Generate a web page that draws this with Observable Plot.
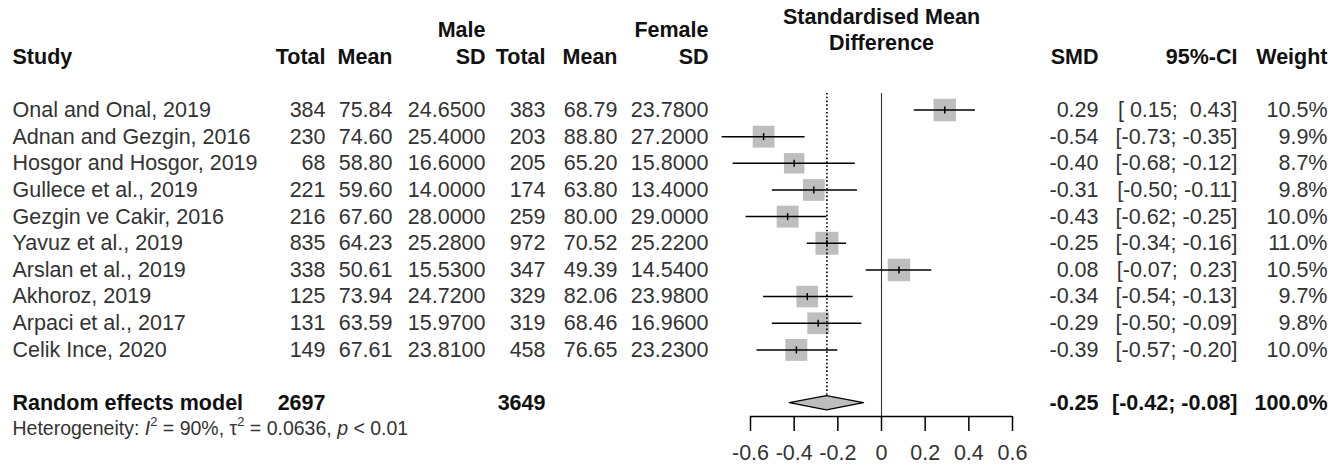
<!DOCTYPE html>
<html>
<head>
<meta charset="utf-8">
<script src="https://cdn.jsdelivr.net/npm/d3@7"></script>
<script src="https://cdn.jsdelivr.net/npm/@observablehq/plot@0.6"></script>
<style>
  html, body { margin: 0; padding: 0; background: #fff; }
  #chart svg text { white-space: pre; }
</style>
</head>
<body>
<div id="chart"></div>
<script>
// ---------------- data ----------------
const studies = [
  "Onal and Onal, 2019", "Adnan and Gezgin, 2016", "Hosgor and Hosgor, 2019",
  "Gullece et al., 2019", "Gezgin ve Cakir, 2016", "Yavuz et al., 2019",
  "Arslan et al., 2019", "Akhoroz, 2019", "Arpaci et al., 2017", "Celik Ince, 2020"
];
const maleTotal   = [384, 230, 68, 221, 216, 835, 338, 125, 131, 149];
const maleMean    = [75.84, 74.60, 58.80, 59.60, 67.60, 64.23, 50.61, 73.94, 63.59, 67.61];
const maleSD      = [24.65, 25.40, 16.60, 14.00, 28.00, 25.28, 15.53, 24.72, 15.97, 23.81];
const femaleTotal = [383, 203, 205, 174, 259, 972, 347, 329, 319, 458];
const femaleMean  = [68.79, 88.80, 65.20, 63.80, 80.00, 70.52, 49.39, 82.06, 68.46, 76.65];
const femaleSD    = [23.78, 27.20, 15.80, 13.40, 29.00, 25.22, 14.54, 23.98, 16.96, 23.23];
const smd         = [0.29, -0.54, -0.40, -0.31, -0.43, -0.25, 0.08, -0.34, -0.29, -0.39];
const ciLower     = [0.15, -0.73, -0.68, -0.50, -0.62, -0.34, -0.07, -0.54, -0.50, -0.57];
const ciUpper     = [0.43, -0.35, -0.12, -0.11, -0.25, -0.16, 0.23, -0.13, -0.09, -0.20];
const weight      = [10.5, 9.9, 8.7, 9.8, 10.0, 11.0, 10.5, 9.7, 9.8, 10.0];

const pooledLabel = "Random effects model";
const pooledMaleTotal = 2697;
const pooledFemaleTotal = 3649;
const pooledSMD = -0.25;
const pooledLower = -0.42;
const pooledUpper = -0.08;
const pooledWeight = 100.0;

const hetI2 = 90;       // %
const hetTau2 = 0.0636;
const hetP = "< 0.01";

const groupLabels = ["Male", "Female"];
const columnHeaders = ["Study", "Total", "Mean", "SD", "Total", "Mean", "SD", "SMD", "95%-CI", "Weight"];
const effectLabel = ["Standardised Mean", "Difference"];
const axisTicks = [-0.6, -0.4, -0.2, 0, 0.2, 0.4, 0.6];

// ---------------- layout (code, not data) ----------------
const FONT = "'Liberation Sans', Arial, Helvetica, sans-serif";
const FS = 21.5;
const TXT = "#333";
const BOLD = "#111";
const ROW0 = 109.5, ROWSTEP = 26.655;
const headerRow1 = -3, headerRow2 = -2;
const summaryRow = 11, hetRow = 11.95, axisRow = 11.5;
const colX = [12, 325, 392, 485, 545, 617, 708, 1098, 1237, 1327];
const colAnchor = ["start", "end", "end", "end", "end", "end", "end", "end", "end", "end"];

const fmtCI = v => (v < 0 ? "" : " ") + v.toFixed(2);
const ciText = (lo, up) => "[" + fmtCI(lo) + "; " + fmtCI(up) + "]";

const rows = studies.map((s, i) => ({
  row: i, study: s,
  mT: maleTotal[i], mM: maleMean[i], mS: maleSD[i],
  fT: femaleTotal[i], fM: femaleMean[i], fS: femaleSD[i],
  smd: smd[i], lo: ciLower[i], up: ciUpper[i], w: weight[i]
}));

const cellFns = [
  d => d.study,
  d => String(d.mT),
  d => d.mM.toFixed(2),
  d => d.mS.toFixed(4),
  d => String(d.fT),
  d => d.fM.toFixed(2),
  d => d.fS.toFixed(4),
  d => d.smd.toFixed(2),
  d => ciText(d.lo, d.up),
  d => d.w.toFixed(1) + "%"
];

const summaryCells = [
  pooledLabel, String(pooledMaleTotal), "", "", String(pooledFemaleTotal), "", "",
  pooledSMD.toFixed(2), ciText(pooledLower, pooledUpper), pooledWeight.toFixed(1) + "%"
];

const marks = [];

// table body
cellFns.forEach((fn, j) => {
  marks.push(Plot.text(rows, {
    y: "row", text: fn, frameAnchor: "left", dx: colX[j], textAnchor: colAnchor[j],
    fontSize: FS, fill: TXT
  }));
});
// column headers
columnHeaders.forEach((h, j) => {
  marks.push(Plot.text([h], {
    y: () => headerRow2, text: d => d, frameAnchor: "left", dx: colX[j], textAnchor: colAnchor[j],
    fontSize: FS, fontWeight: "bold", fill: BOLD
  }));
});
// group headers (Male / Female) above their SD columns
groupLabels.forEach((g, k) => {
  marks.push(Plot.text([g], {
    y: () => headerRow1, text: d => d, frameAnchor: "left", dx: colX[3 + 3 * k], textAnchor: "end",
    fontSize: FS, fontWeight: "bold", fill: BOLD
  }));
});
// effect label, centered on the no-effect value
marks.push(Plot.text(effectLabel.map((t, k) => ({t, k})), {
  x: () => 0, y: d => headerRow1 - 0.5 + d.k, text: "t",
  fontSize: FS, fontWeight: "bold", fill: BOLD
}));
// summary row
summaryCells.forEach((t, j) => {
  if (!t) return;
  marks.push(Plot.text([t], {
    y: () => summaryRow, text: d => d, frameAnchor: "left", dx: colX[j], textAnchor: colAnchor[j],
    fontSize: FS, fontWeight: "bold", fill: BOLD
  }));
});
// heterogeneity (rebuilt with tspans afterwards)
const hetString = `Heterogeneity: I2 = ${hetI2}%, t2 = ${hetTau2}, p ${hetP}`;
marks.push(Plot.text([hetString], {
  y: () => hetRow, text: d => d, frameAnchor: "left", dx: colX[0], textAnchor: "start",
  fontSize: 19.5, fill: TXT
}));

// forest graphics
const vbar = { draw(ctx, size) { const h = Math.sqrt(size / Math.PI); ctx.moveTo(0, -h); ctx.lineTo(0, h); } };
const dh = 0.265;
const diamond = [
  {x: pooledLower, y1: summaryRow, y2: summaryRow},
  {x: pooledSMD, y1: summaryRow - dh, y2: summaryRow + dh},
  {x: pooledUpper, y1: summaryRow, y2: summaryRow}
];

marks.push(
  Plot.ruleX([0], {y1: () => -0.62, y2: () => axisRow, stroke: "#333", strokeWidth: 1.1}),
  Plot.dot(rows, {x: "smd", y: "row", r: "w", symbol: "square", fill: "#bebebe", stroke: "none"}),
  Plot.ruleX([pooledSMD], {y1: () => -0.62, y2: () => summaryRow, stroke: "#000", strokeWidth: 1.6, strokeDasharray: "1.6,2.2"}),
  Plot.ruleY(rows, {y: "row", x1: "lo", x2: "up", stroke: "#000", strokeWidth: 1.5}),
  Plot.dot(rows, {x: "smd", y: "row", r: 3.5, symbol: vbar, stroke: "#000", strokeWidth: 1.5, fill: "none"}),
  Plot.area(diamond, {x1: "x", y1: "y1", y2: "y2", fill: "#bebebe", stroke: "#000", strokeWidth: 1.3}),
  Plot.ruleY([axisRow], {x1: () => d3.min(axisTicks), x2: () => d3.max(axisTicks), stroke: "#000", strokeWidth: 1.5}),
  Plot.axisX(axisTicks, {
    anchor: "bottom", tickSize: 15, tickPadding: 13, strokeWidth: 1.5,
    tickFormat: d => d === 0 ? "0" : d.toFixed(1), fontSize: FS, label: null, fill: TXT
  })
);

const chart = Plot.plot({
  width: 1332, height: 468,
  marginLeft: 0, marginRight: 0, marginTop: 0, marginBottom: 52,
  style: {fontFamily: FONT, fontSize: FS + "px", background: "#fff", color: "#000"},
  x: {domain: [-0.6, 0.6], range: [750, 1012], axis: null},
  y: {domain: [0, 9], range: [ROW0, ROW0 + 9 * ROWSTEP], axis: null},
  r: {type: "sqrt", domain: [0, 11], range: [0, 23 / Math.sqrt(Math.PI)]},
  marks
});

document.getElementById("chart").appendChild(chart);

// rebuild the heterogeneity line with italic / superscript parts
d3.select(chart).selectAll("text").filter(function () {
  return this.textContent.startsWith("Heterogeneity");
}).each(function () {
  const t = d3.select(this);
  t.text(null);
  const parts = [
    {s: "Heterogeneity: "},
    {s: "I", it: true},
    {s: "2", sup: true},
    {s: ` = ${hetI2}%, `, down: true},
    {s: "\u03c4"},
    {s: "2", sup: true},
    {s: ` = ${hetTau2}, `, down: true},
    {s: "p", it: true},
    {s: ` ${hetP}`}
  ];
  parts.forEach(p => {
    const ts = t.append("tspan").text(p.s);
    if (p.it) ts.attr("font-style", "italic");
    if (p.sup) ts.attr("font-size", 13).attr("dy", -9);
    if (p.down) ts.attr("dy", 9);
  });
});
</script>
</body>
</html>
